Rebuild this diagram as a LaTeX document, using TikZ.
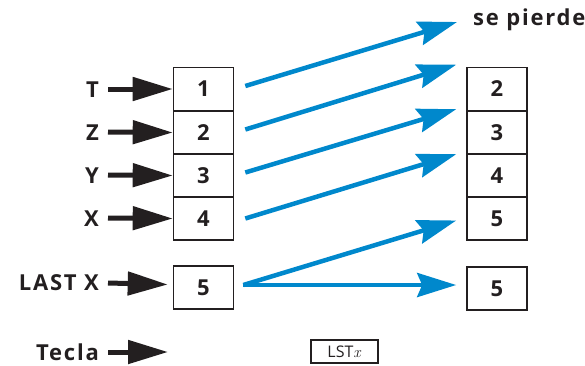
\documentclass[tikz,border=0pt]{standalone}
\usepackage{fontspec}
\setmainfont{Open Sans}
\newfontfamily\lblfont{Open Sans}[LetterSpace=8]
\usetikzlibrary{arrows.meta,calc}
\definecolor{ink}{HTML}{231F20}
\definecolor{flow}{HTML}{0088CC}
\tikzset{
  reg/.style={draw=ink,line width=1.6pt,minimum width=60pt,minimum height=43pt,inner sep=0pt,
    font=\fontsize{22}{22}\selectfont\bfseries,text=ink},
  lbl/.style={font=\lblfont\fontsize{22}{22}\selectfont\bfseries,text=ink,inner sep=0pt},
  inarrow/.style={draw=ink,line width=5pt,-{Triangle[length=40pt,width=23pt]}},
  bluearrow/.style={draw=flow,line width=4.5pt,-{Stealth[length=39pt,width=24pt,inset=5pt]}},
}
\begin{document}
\begin{tikzpicture}[x=1pt,y=-1pt]
\useasboundingbox (0,0) rectangle (585,365);
% left stack
\node[reg] (l1) at (203.5,89) {1};
\node[reg] (l2) at (203.5,132.5) {2};
\node[reg] (l3) at (203.5,175.5) {3};
\node[reg] (l4) at (203.5,218.5) {4};
\node[reg] (l5) at (203.5,287.5) {5};
% right stack
\node[reg] (r2) at (497,89) {2};
\node[reg] (r3) at (497,132.5) {3};
\node[reg] (r4) at (497,175.5) {4};
\node[reg] (r5) at (497,218.5) {5};
\node[reg] (r6) at (497,288.5) {5};
% labels
\node[lbl,anchor=east] (lt) at (99,90) {T};
\node[lbl,anchor=east] (lz) at (99,133) {Z};
\node[lbl,anchor=east] (ly) at (99,176) {Y};
\node[lbl,anchor=east] (lx) at (99,219) {X};
\node[lbl,anchor=east] (llx) at (99,283) {LAST X};
\node[lbl,anchor=east] (ltc) at (99,352) {Tecla};
\node[lbl,anchor=west] (lost) at (473,20) {se pierde};
\node[draw=ink,line width=1.2pt,minimum width=67pt,minimum height=23pt,inner sep=0pt,
  font=\fontsize{16}{16}\selectfont,text=ink] (key) at (344.5,351.5) {LST\textit{\fontspec{Latin Modern Roman}x}};
% black input arrows
\coordinate (tce) at (168,352);
\draw[inarrow] (lt.east) ++(9,-1) -- (l1.west);
\draw[inarrow] (lz.east) ++(9,-1) -- (l2.west);
\draw[inarrow] (ly.east) ++(9,-1) -- (l3.west);
\draw[inarrow] (lx.east) ++(9,-1) -- (l4.west);
\draw[inarrow] (llx.east) ++(9,0) -- ($(l5.west)+(-5,-3)$);
\draw[inarrow] (ltc.east) ++(9,0) -- (tce);
% blue arrows
\draw[bluearrow] ($(l1.east)+(11,-3)$) -- ($(lost.west)+(-16,2)$);
\draw[bluearrow] ($(l2.east)+(11,-3)$) -- ($(r2.north west)+(-10,-2)$);
\draw[bluearrow] ($(l3.east)+(11,-3)$) -- ($(r3.north west)+(-10,-1)$);
\draw[bluearrow] ($(l4.east)+(11,0)$) -- ($(r4.north west)+(-10,1)$);
\coordinate (fork) at ($(l5.east)+(9,-2.5)$);
\draw[bluearrow] (fork) -- ($(r5.west)+(-10,2)$);
\draw[bluearrow] (fork) -- ($(r6.west)+(-10,-3.5)$);
\end{tikzpicture}
\end{document}
